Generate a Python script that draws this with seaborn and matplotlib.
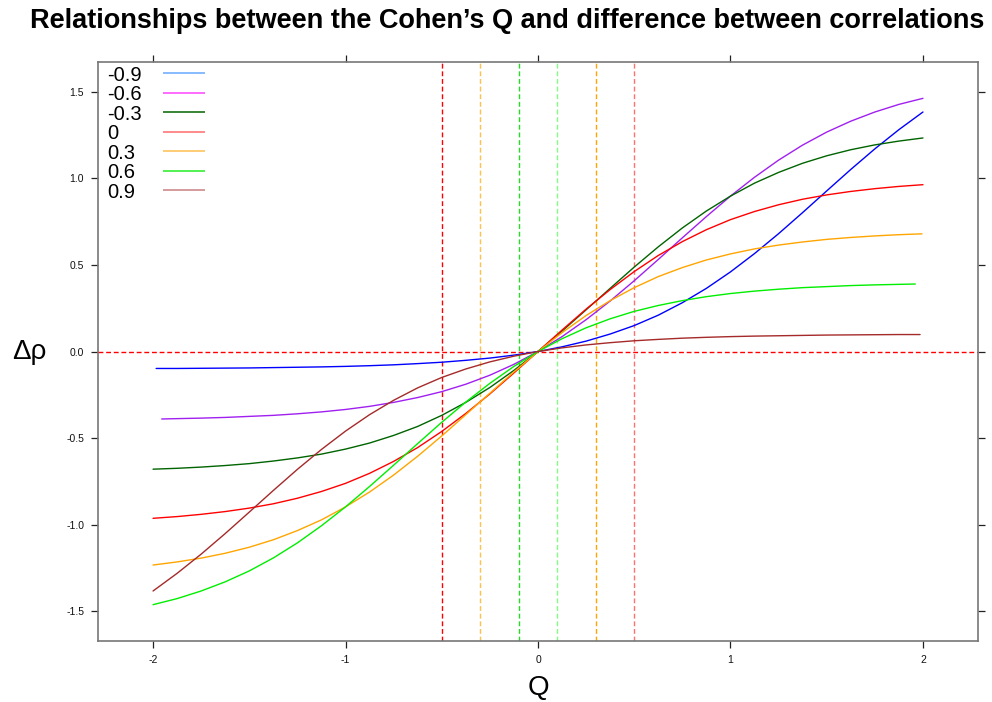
import numpy as np
import pandas as pd
import matplotlib
matplotlib.use("Agg")
import matplotlib.pyplot as plt
import seaborn as sns

# Baseline correlations (one curve each)
baselines = ["-0.9", "-0.6", "-0.3", "0", "0.3", "0.6", "0.9"]

# Cohen's Q grid shared by all curves
q_grid = [-2.0, -1.875, -1.75, -1.625, -1.5, -1.375, -1.25, -1.125,
          -1.0, -0.875, -0.75, -0.625, -0.5, -0.375, -0.25, -0.125, 0.0,
          0.125, 0.25, 0.375, 0.5, 0.625, 0.75, 0.875, 1.0,
          1.125, 1.25, 1.375, 1.5, 1.625, 1.75, 1.875, 2.0]

# Where each curve actually starts and stops on the Q axis
q_first = [-1.984, -1.955, -2.0, -2.0, -2.0, -2.0, -2.0]
q_last = [2.0, 2.0, 2.0, 2.0, 1.995, 1.96, 1.985]

# Difference between correlations (delta rho) along the grid
dr_m09 = [-0.098, -0.098, -0.097, -0.096, -0.095, -0.093, -0.091, -0.089,
          -0.086, -0.082, -0.077, -0.070, -0.062, -0.051, -0.038, -0.021, 0.0,
          0.027, 0.060, 0.101, 0.150, 0.210, 0.282, 0.365, 0.460,
          0.566, 0.681, 0.803, 0.928, 1.052, 1.171, 1.282, 1.384]
dr_m06 = [-0.390, -0.388, -0.385, -0.381, -0.375, -0.369, -0.360, -0.349,
          -0.335, -0.317, -0.294, -0.266, -0.232, -0.189, -0.137, -0.074, 0.0,
          0.086, 0.184, 0.292, 0.409, 0.532, 0.657, 0.780, 0.898,
          1.007, 1.106, 1.193, 1.268, 1.331, 1.384, 1.428, 1.463]
dr_m03 = [-0.680, -0.675, -0.668, -0.659, -0.648, -0.633, -0.615, -0.593,
          -0.564, -0.529, -0.485, -0.433, -0.369, -0.294, -0.208, -0.109, 0.0,
          0.118, 0.241, 0.365, 0.488, 0.605, 0.714, 0.812, 0.898,
          0.973, 1.035, 1.088, 1.131, 1.166, 1.194, 1.216, 1.234]
dr_0 = [-0.964, -0.954, -0.941, -0.925, -0.905, -0.880, -0.848, -0.809,
        -0.762, -0.704, -0.635, -0.555, -0.462, -0.358, -0.245, -0.124, 0.0,
        0.124, 0.245, 0.358, 0.462, 0.555, 0.635, 0.704, 0.762,
        0.809, 0.848, 0.880, 0.905, 0.925, 0.941, 0.954, 0.964]
dr_p03 = [-1.234, -1.216, -1.194, -1.166, -1.131, -1.088, -1.035, -0.973,
          -0.898, -0.812, -0.714, -0.605, -0.488, -0.365, -0.241, -0.118, 0.0,
          0.109, 0.208, 0.294, 0.369, 0.433, 0.485, 0.529, 0.564,
          0.593, 0.615, 0.633, 0.648, 0.659, 0.668, 0.675, 0.680]
dr_p06 = [-1.463, -1.428, -1.384, -1.331, -1.268, -1.193, -1.106, -1.007,
          -0.898, -0.780, -0.657, -0.532, -0.409, -0.292, -0.184, -0.086, 0.0,
          0.074, 0.137, 0.189, 0.232, 0.266, 0.294, 0.317, 0.335,
          0.349, 0.360, 0.369, 0.375, 0.381, 0.385, 0.388, 0.390]
dr_p09 = [-1.384, -1.282, -1.171, -1.052, -0.928, -0.803, -0.681, -0.566,
          -0.460, -0.365, -0.282, -0.210, -0.150, -0.101, -0.060, -0.027, 0.0,
          0.021, 0.038, 0.051, 0.062, 0.070, 0.077, 0.082, 0.086,
          0.089, 0.091, 0.093, 0.095, 0.096, 0.097, 0.098, 0.098]
dr_series = [dr_m09, dr_m06, dr_m03, dr_0, dr_p03, dr_p06, dr_p09]

# Reference lines
q_refs = [-0.5, -0.3, -0.1, 0.1, 0.3, 0.5]

line_colors = ["#0000ff", "#a020f0", "#006400", "#ff0000", "#ffa500", "#00ee00", "#a52a2a"]
key_colors = ["#66aaff", "#ff44ff", "#006400", "#ff6b6b", "#ffbf4f", "#22ee22", "#c98080"]
ref_colors = ["#ff0000", "#ffc04d", "#22dd22", "#80ff80", "#ffa500", "#ff7070"]

# Long-form table for seaborn
rows = []
for name, dr, qa, qb in zip(baselines, dr_series, q_first, q_last):
    qs = list(q_grid)
    qs[0], qs[-1] = qa, qb
    for q, d in zip(qs, dr):
        rows.append({"Q": q, "dr": d, "r": name})
df = pd.DataFrame(rows)

sns.set_theme(style="white")
plt.rcParams["font.family"] = ["Liberation Sans", "DejaVu Sans"]

fig = plt.figure(figsize=(9.92, 7.02), dpi=100)
ax = fig.add_axes([98 / 992, 1 - 641 / 702, 880 / 992, 579 / 702])

sns.lineplot(data=df, x="Q", y="dr", hue="r", hue_order=baselines,
             palette=line_colors, estimator=None, sort=False, legend=False,
             linewidth=1.0, ax=ax)
for ln in ax.get_lines():
    ln.set_solid_joinstyle("round")

dash = (0, (3.5, 2.0))
ax.axhline(0, color="#ff0000", lw=1.0, ls=dash, zorder=0)
for q, c in zip(q_refs, ref_colors):
    ax.axvline(q, color=c, lw=1.0, ls=dash, zorder=0)

ax.set_xlim(-2.286, 2.286)
ax.set_ylim(-1.673, 1.673)
ax.set_xticks([-2, -1, 0, 1, 2])
ax.set_xticklabels(["-2", "-1", "0", "1", "2"])
ax.set_yticks([-1.5, -1.0, -0.5, 0.0, 0.5, 1.0, 1.5])
ax.set_yticklabels(["-1.5", "-1.0", "-0.5", "0.0", "0.5", "1.0", "1.5"])
ax.tick_params(direction="out", length=5, width=0.9, color="#222222",
               labelsize=7.5, labelcolor="#111111", pad=5,
               top=True, right=True, bottom=True, left=True)
for s in ax.spines.values():
    s.set_color("#777777")
    s.set_linewidth(1.2)

ax.set_xlabel("Q", fontsize=20, va="top", color="#000000")
ax.xaxis.set_label_coords(0.5, -0.058)
ax.set_ylabel("Δρ", fontsize=20, rotation=0, ha="center", va="center", color="#000000")
ax.yaxis.set_label_coords(-0.078, 0.5)

# Key in the upper-left corner
for i, (name, c) in enumerate(zip(baselines, key_colors)):
    y = 0.981 - i * 0.03368
    ax.plot([0.0744, 0.1216], [y, y], transform=ax.transAxes, color=c, lw=1.1,
            solid_capstyle="butt")
    ax.text(0.0102, y - 0.0138, name, transform=ax.transAxes, fontsize=14.5,
            ha="left", va="baseline", color="#000000")

fig.suptitle("Relationships between the Cohen’s Q and difference between correlations",
             x=0.5116, y=0.989, va="top", fontsize=19.5, fontweight="bold",
             color="#000000")

fig.savefig("out.png", dpi=100)
